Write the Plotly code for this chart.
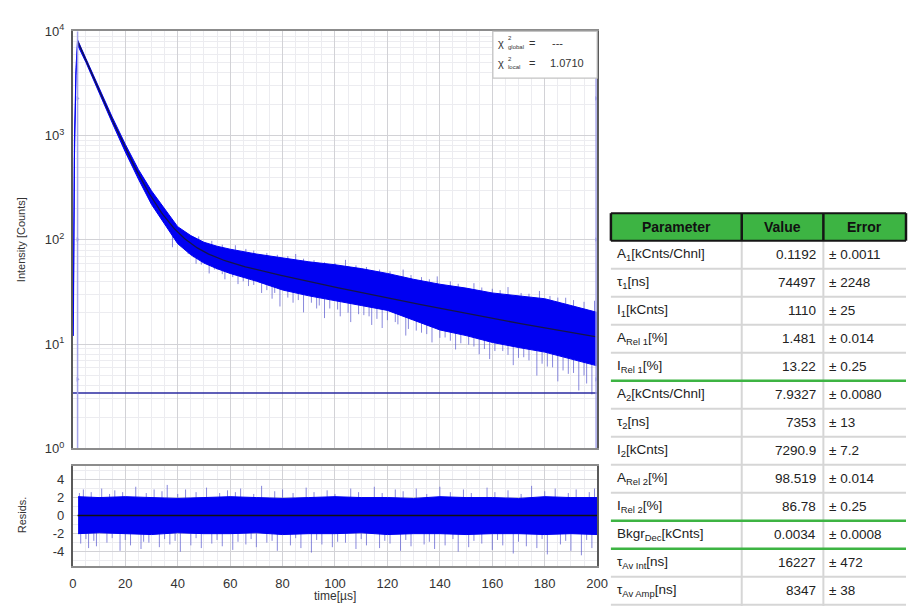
import numpy as np
import plotly.graph_objects as go

W, H = 917, 614

# ---- fit parameters (two-exponential tail fit) ----
param_names = [
    "A<sub>1</sub>[kCnts/Chnl]", "τ<sub>1</sub>[ns]", "I<sub>1</sub>[kCnts]",
    "A<sub>Rel 1</sub>[%]", "I<sub>Rel 1</sub>[%]",
    "A<sub>2</sub>[kCnts/Chnl]", "τ<sub>2</sub>[ns]", "I<sub>2</sub>[kCnts]",
    "A<sub>Rel 2</sub>[%]", "I<sub>Rel 2</sub>[%]",
    "Bkgr<sub>Dec</sub>[kCnts]", "τ<sub>Av Int</sub>[ns]", "τ<sub>Av Amp</sub>[ns]",
]
param_values = ["0.1192", "74497", "1110", "1.481", "13.22",
                "7.9327", "7353", "7290.9", "98.519", "86.78",
                "0.0034", "16227", "8347"]
param_errors = ["± 0.0011", "± 2248", "± 25", "± 0.014", "± 0.25",
                "± 0.0080", "± 13", "± 7.2", "± 0.014", "± 0.25",
                "± 0.0008", "± 472", "± 38"]
table_header = ["Parameter", "Value", "Error"]
group_ends = [4, 9, 10]     # rows after which a group separator is drawn

A1_kcnts, tau1_ns = 0.1192, 74497
A2_kcnts, tau2_ns = 7.9327, 7353
bkgr_kcnts = 0.0034
t_start_us = 1.8          # decay onset / fit start
chi2_global, chi2_local = "---", "1.0710"

# ---- measured decay: dense band edges (counts) ----
t_env = [0.2, 0.6, 1.2, 1.8, 5, 10, 15, 20, 25, 30, 35, 40, 45, 50, 55, 60,
         70, 80, 90, 100, 110, 120, 130, 140, 150, 160, 170, 180, 190, 200]
env_hi = [22, 900, 4500, 8300, 5480, 2820, 1510, 828, 474, 296, 197, 134, 110,
          95, 87, 81.5, 73.3, 67.3, 61.7, 57.8, 53.1, 47.7, 41.9, 37.6, 34.5,
          31.0, 29.1, 27.3, 23.5, 20.2]
env_lo = [12, 600, 3800, 7400, 5030, 2590, 1330, 698, 383, 219, 140, 92, 72,
          60, 53, 47.7, 40.2, 33.1, 29.1, 26.1, 23.5, 21.1, 17.0, 13.7, 12.1,
          10.4, 9.3, 8.4, 7.2, 6.2]

# isolated excursions outside the dense band (counts)
spike_t = [38, 44, 47, 52, 55, 58, 63, 67, 72, 76, 79, 84, 88, 93, 96, 102,
           106, 109, 114, 118, 123, 127, 133, 137, 142, 146, 151, 155, 159,
           164, 168, 172, 177, 181, 185, 189, 193, 196, 198,
           46, 49, 54, 57, 61, 65, 69, 74, 77, 82, 86, 91, 94, 98, 101, 105,
           111, 113, 116, 120, 124, 128, 131, 135, 140, 144, 148, 153, 157,
           161, 166, 170, 174, 179, 183, 187, 191, 195, 200,
           62, 85, 104, 126, 139, 153, 166, 178, 188, 199,
           48, 53, 57, 66, 69, 74, 78, 82, 88, 92, 96, 100, 108, 112, 117,
           121, 129, 133, 136, 144, 147, 156, 160, 163, 171, 174, 182, 185,
           191, 195]
spike_v = [85.1, 73.3, 59.1, 47.7, 52.0, 41.9, 37.7, 36.1, 31.0, 27.3, 23.0,
           25.0, 20.2, 22.0, 17.8, 18.5, 16.3, 19.4, 15.3, 14.3, 16.3, 12.1,
           12.9, 10.4, 11.6, 8.9, 9.9, 8.0, 7.2, 8.6, 6.3, 7.5, 5.0, 6.1, 4.4,
           5.2, 3.6, 4.2, 3.3,
           68, 58, 52, 47, 44, 40, 37, 33, 31, 28, 26.5, 25, 23.5, 22, 21.5,
           20, 19, 18.5, 17.5, 17, 15.5, 14, 13.5, 12.5, 11.5, 10.8, 10.2,
           9.5, 9, 8.6, 7.9, 7.4, 7, 6.5, 6, 5.6, 5.3, 5, 4.6,
           88.9, 73.3, 64.4, 52.0, 44.7, 38.5, 35.3, 32.4, 27.9, 26.1,
           108, 98, 90, 82, 79, 75, 72, 70, 66, 64, 61, 60, 57, 55, 52, 50,
           46, 44, 42, 40, 38, 35, 34, 33, 31, 30.5, 29, 28, 26.5, 25.5]

# ---- weighted residuals ----
t_res = [2, 10, 20, 30, 40, 50, 60, 70, 80, 90, 100, 110, 120, 130, 140,
         150, 160, 170, 180, 190, 200]
res_hi = [2.1, 2.0, 2.1, 2.0, 1.9, 2.0, 2.1, 2.0, 1.9, 2.0, 2.1, 2.0, 2.0,
          1.9, 2.1, 2.0, 2.0, 1.9, 2.1, 2.0, 2.0]
res_lo = [-2.0, -1.9, -2.0, -2.1, -1.9, -2.0, -2.0, -1.9, -2.1, -2.0, -2.0,
          -1.9, -2.1, -2.0, -2.0, -2.1, -2.0, -2.0, -2.1, -2.0, -2.1]
res_spike_t = [3, 6, 9, 13, 18, 22, 26, 29, 33, 37, 41, 45, 49, 53, 57, 61,
               66, 70, 74, 78, 83, 87, 91, 95, 99, 104, 108, 112, 117, 121,
               125, 129, 134, 138, 142, 147, 151, 156, 160, 164, 168, 173,
               177, 181, 186, 190, 194, 198,
               4, 11, 16, 24, 31, 36, 43, 51, 59, 64, 72, 80, 89, 97, 106,
               115, 123, 131, 140, 149, 158, 166, 175, 184, 192, 199,
               5, 8, 15, 20, 27, 35, 39, 47, 55, 63, 68, 76, 85, 93, 101,
               110, 119, 127, 136, 145, 153, 162, 170, 179, 188, 196,
               2.5, 7, 14, 19, 28, 34, 40, 47, 56, 62, 69, 77, 84, 92, 100,
               109, 118, 126, 135, 144, 152, 161, 171, 180, 189, 197]
res_spike_v = [-3.1, -3.6, -3.4, -3.0, -3.9, -3.3, -3.7, -3.0, -3.5, -3.2,
               -4.0, -3.3, -3.6, -3.1, -3.4, -3.8, -3.2, -3.5, -3.0, -3.9,
               -3.3, -3.6, -4.1, -3.2, -3.5, -3.0, -3.7, -3.3, -3.6, -3.1,
               -3.9, -3.4, -3.2, -3.7, -3.3, -4.0, -3.5, -3.1, -3.8, -3.3,
               -4.2, -3.4, -3.6, -4.3, -3.2, -3.9, -4.4, -3.6,
               2.9, 3.0, 2.8, 3.2, 2.9, 3.4, 2.9, 3.1, 2.8, 3.0, 3.3, 2.9,
               3.1, 2.8, 3.0, 3.2, 2.9, 3.0, 3.2, 2.9, 3.1, 2.8, 3.3, 3.0,
               2.9, 3.0,
               -2.6, -2.8, -2.5, -2.7, -2.9, -2.6, -2.8, -2.5, -2.7, -2.9,
               -2.6, -2.8, -2.5, -2.7, -2.9, -2.6, -2.8, -2.7, -2.9, -2.6,
               -2.8, -2.7, -2.9, -2.6, -2.8, -2.7,
               2.5, 2.6, 2.4, 2.6, 2.5, 2.7, 2.4, 2.6, 2.5, 2.6, 2.4, 2.7,
               2.5, 2.6, 2.4, 2.6, 2.5, 2.7, 2.4, 2.6, 2.5, 2.6, 2.4, 2.7,
               2.5, 2.6]

x_ticks = list(range(0, 201, 20))
res_ticks = [-4, -2, 0, 2, 4]
y_decades = [0, 1, 2, 3, 4]


def fit_counts(t_us):
    t = np.asarray(t_us, dtype=float) - t_start_us
    return (A1_kcnts * 1000 * np.exp(-t * 1000 / tau1_ns)
            + A2_kcnts * 1000 * np.exp(-t * 1000 / tau2_ns)
            + bkgr_kcnts * 1000)


def px(x):
    return x / W


def py(y):
    return 1 - y / H


FONT = "Liberation Sans, Arial, sans-serif"
BAND = "#0000f2"
SPIKE = "rgba(85,85,205,0.7)"
FIT = "#14144a"
RANGE = "rgba(160,160,232,0.95)"
TXT = "#333333"

fig = go.Figure()

# excursions first so the dense band sits on top
sx, sy = [], []
for t, v in zip(spike_t, spike_v):
    sx += [t, t, None]
    sy += [float(fit_counts(t)), v, None]
fig.add_trace(go.Scatter(x=sx, y=sy, mode="lines", line=dict(color=SPIKE, width=1),
                         hoverinfo="skip", xaxis="x", yaxis="y"))

fig.add_trace(go.Scatter(x=t_env + t_env[::-1], y=env_hi + env_lo[::-1],
                         fill="toself", fillcolor=BAND, mode="lines",
                         line=dict(color=BAND, width=1), xaxis="x", yaxis="y"))

t_fit = np.arange(t_start_us, 200.001, 0.5)
fig.add_trace(go.Scatter(x=t_fit, y=fit_counts(t_fit), mode="lines",
                         line=dict(color=FIT, width=1.3), xaxis="x", yaxis="y"))

# background level
fig.add_trace(go.Scatter(x=[0, 200], y=[bkgr_kcnts * 1000] * 2, mode="lines",
                         line=dict(color="#2a2aa0", width=1.5), xaxis="x", yaxis="y"))

# fit-range markers
for xr in (t_start_us, 199.6):
    fig.add_trace(go.Scatter(x=[xr, xr], y=[1, 10000], mode="lines",
                             line=dict(color=RANGE, width=1.5), xaxis="x", yaxis="y"))
    fig.add_trace(go.Scatter(x=[xr] * 3, y=[2275, 101, 4.6], mode="markers",
                             marker=dict(color=RANGE, size=4, symbol="triangle-right"),
                             xaxis="x", yaxis="y"))

# residuals
rx, ry = [], []
for t, v in zip(res_spike_t, res_spike_v):
    rx += [t, t, None]
    ry += [0, v, None]
fig.add_trace(go.Scatter(x=rx, y=ry, mode="lines", line=dict(color=SPIKE, width=1),
                         xaxis="x2", yaxis="y2"))
fig.add_trace(go.Scatter(x=t_res + t_res[::-1], y=res_hi + res_lo[::-1],
                         fill="toself", fillcolor=BAND, mode="lines",
                         line=dict(color=BAND, width=1), xaxis="x2", yaxis="y2"))
fig.add_trace(go.Scatter(x=[t_start_us, 200], y=[0, 0], mode="lines",
                         line=dict(color="#111111", width=1.5), xaxis="x2", yaxis="y2"))

grid_major = "#d2d2d6"
grid_minor = "#ececf0"
frame = "#8c8c8c"

x_common = dict(range=[0, 200], tickvals=x_ticks, showgrid=True, gridcolor=grid_major,
                minor=dict(dtick=5, showgrid=True, gridcolor=grid_minor),
                showline=True, linecolor=frame, linewidth=2, mirror=True,
                zeroline=False, ticks="")

fig.update_layout(
    width=W, height=H, margin=dict(l=0, r=0, t=0, b=0),
    paper_bgcolor="white", plot_bgcolor="white", showlegend=False,
    font=dict(family=FONT, color=TXT),
    xaxis=dict(domain=[px(70), px(603)], anchor="y", showticklabels=False, **x_common),
    yaxis=dict(domain=[py(452), py(23)], anchor="x", type="log", range=[0, 4],
               tickvals=[10 ** d for d in y_decades],
               ticktext=[f"10<sup>{d}</sup>" for d in y_decades],
               tickfont=dict(size=13, color=TXT), ticklabelstandoff=4,
               showgrid=True, gridcolor=grid_major,
               minor=dict(dtick="D1", showgrid=True, gridcolor=grid_minor),
               showline=True, linecolor="#5a5a5a", linewidth=2, mirror=True,
               ticks="", zeroline=False),
    xaxis2=dict(domain=[px(70), px(603)], anchor="y2", ticktext=[str(v) for v in x_ticks],
                tickfont=dict(size=13, color=TXT), ticklabelstandoff=4, **x_common),
    yaxis2=dict(domain=[py(573), py(470)], anchor="x2", range=[-5.6, 5.5],
                tickvals=res_ticks, ticktext=[str(v) for v in res_ticks],
                tickfont=dict(size=13, color=TXT), ticklabelstandoff=4,
                showgrid=True, gridcolor=grid_major,
                minor=dict(dtick=1, showgrid=True, gridcolor=grid_minor),
                showline=True, linecolor="#5a5a5a", linewidth=2, mirror=True,
                ticks="", zeroline=False),
)

annotations = [
    dict(text="Intensity [Counts]", x=px(18), y=py(237), textangle=-90,
         font=dict(size=11, color=TXT)),
    dict(text="Resids.", x=px(18), y=py(520), textangle=-90,
         font=dict(size=11, color=TXT)),
    dict(text="time[µs]", x=px(336), y=py(604), font=dict(size=12, color=TXT)),
]
# chi-square readout
for row_y, sub, val in ((35, "global", chi2_global), (56, "local", chi2_local)):
    annotations += [
        dict(text="χ", x=px(505), y=py(row_y), font=dict(size=11, color=TXT)),
        dict(text="2", x=px(510), y=py(row_y - 5), xanchor="left",
             font=dict(size=6, color=TXT)),
        dict(text=sub, x=px(510), y=py(row_y + 4), xanchor="left",
             font=dict(size=6, color=TXT)),
        dict(text="=", x=px(537), y=py(row_y), font=dict(size=11, color=TXT)),
        dict(text=val, x=px(572 if val != "---" else 563), y=py(row_y),
             font=dict(size=11, color=TXT)),
    ]

shapes = [
    dict(type="rect", xref="paper", yref="paper", x0=px(497), x1=px(603),
         y0=py(71), y1=py(23), line=dict(color="#c4c4c4", width=1.2),
         fillcolor="white", layer="above"),
]

# ---- parameter table ----
col_edges = [617, 750, 833, 917]
head_top, head_bot, row_h = 210, 238.3, 28.8
row_tops = [head_bot + row_h * i for i in range(len(param_names))]
GREEN = "#3db443"
GRID = "#d6d6d6"

shapes.append(dict(type="rect", xref="paper", yref="paper", x0=px(617), x1=1,
                   y0=py(head_bot), y1=py(head_top), fillcolor=GREEN,
                   line=dict(width=0), layer="below"))
# light cell grid
for i in range(1, len(param_names) + 1):
    yy = head_bot + row_h * i
    if i - 1 in group_ends:
        continue
    shapes.append(dict(type="line", xref="paper", yref="paper", x0=px(617), x1=1,
                       y0=py(yy), y1=py(yy), line=dict(color=GRID, width=2)))
for xe in col_edges[1:3]:
    shapes.append(dict(type="line", xref="paper", yref="paper", x0=px(xe), x1=px(xe),
                       y0=0, y1=py(head_bot), line=dict(color=GRID, width=2)))
# header frame
for xe in col_edges:
    shapes.append(dict(type="line", xref="paper", yref="paper", x0=px(xe), x1=px(xe),
                       y0=py(head_bot), y1=py(head_top), line=dict(color="#151515", width=2.5)))
for yy in (head_top, head_bot):
    shapes.append(dict(type="line", xref="paper", yref="paper", x0=px(617), x1=1,
                       y0=py(yy), y1=py(yy), line=dict(color="#151515", width=2)))
# group separators
for g in group_ends:
    yy = head_bot + row_h * (g + 1)
    shapes.append(dict(type="line", xref="paper", yref="paper", x0=px(617), x1=1,
                       y0=py(yy), y1=py(yy), line=dict(color=GREEN, width=2.5)))

for j, name in enumerate(table_header):
    cx = (col_edges[j] + col_edges[j + 1]) / 2
    annotations.append(dict(text=f"<b>{name}</b>", x=px(cx), y=py((head_top + head_bot) / 2),
                            font=dict(size=14, color="#111111")))
for i, top in enumerate(row_tops):
    cy = py(top + row_h / 2)
    annotations += [
        dict(text=param_names[i], x=px(621), y=cy, xanchor="left",
             font=dict(size=13.5, color="#222222")),
        dict(text=param_values[i], x=px(828), y=cy, xanchor="right",
             font=dict(size=13.5, color="#222222")),
        dict(text=param_errors[i], x=px(837), y=cy, xanchor="left",
             font=dict(size=13.5, color="#222222")),
    ]

for a in annotations:
    a.setdefault("xanchor", "center")
    a.setdefault("yanchor", "middle")
    a.update(xref="paper", yref="paper", showarrow=False)
fig.update_layout(annotations=annotations, shapes=shapes)

fig.write_html("out.html")
